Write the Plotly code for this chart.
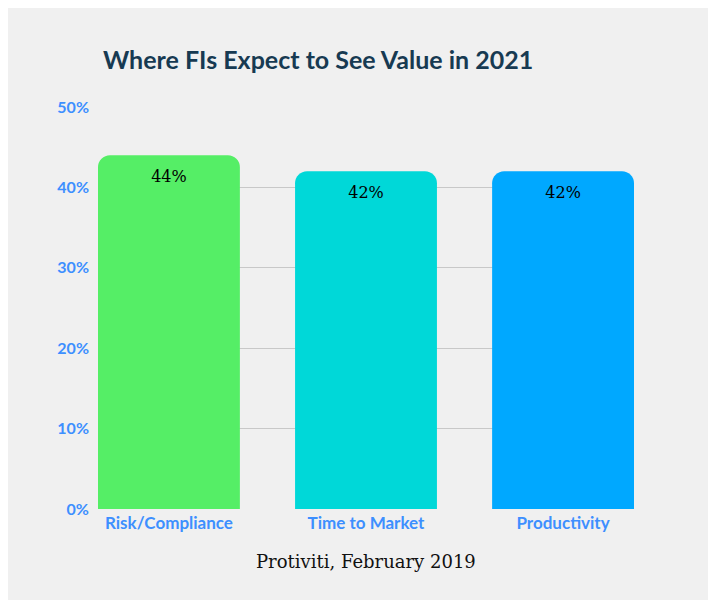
import plotly.graph_objects as go

categories = ["Risk/Compliance", "Time to Market", "Productivity"]
values = [44, 42, 42]
colors = ["#55ee66", "#00d8d8", "#00a8ff"]
tick_vals = [0, 10, 20, 30, 40, 50]
tick_text = ["0%", "10%", "20%", "30%", "40%", "50%"]

fig = go.Figure(go.Bar(
    x=categories, y=values, width=0.72,
    marker=dict(color=colors, line=dict(width=0)),
    text=[f"{v}%" for v in values], textposition="inside", insidetextanchor="end",
    textfont=dict(family="DejaVu Serif", size=16, color="black"),
    hoverinfo="skip",
))

fig.update_layout(
    width=716, height=600,
    margin=dict(l=90, r=90, t=99, b=99),
    paper_bgcolor="#f0f0f0", plot_bgcolor="#f0f0f0",
    barcornerradius=12,
    showlegend=False,
    title=dict(text="<b>Where FIs Expect to See Value in 2021</b>", x=95/716, xanchor="left",
               y=1 - 52/600, yanchor="middle",
               font=dict(family="Lato", size=25, color="#173a52")),
    annotations=[dict(text="Protiviti, February 2019", x=0.5, xref="paper", y=-65/402,
                      yref="paper", showarrow=False,
                      font=dict(family="DejaVu Serif", size=18, color="#111"))],
)
fig.update_xaxes(range=[-0.36, 2.36], showgrid=False, showline=False,
                 tickfont=dict(family="Lato", size=17, color="#3d8fff"), ticklabelstandoff=2)
fig.update_yaxes(range=[0, 50], tickvals=tick_vals, ticktext=tick_text,
                 showgrid=True, gridcolor="#c8c8c8", zeroline=False,
                 tickfont=dict(family="Lato", size=16, color="#3d8fff"), ticklabelstandoff=8)
fig.for_each_xaxis(lambda a: a.update(tickfont_weight="bold"))
fig.for_each_yaxis(lambda a: a.update(tickfont_weight="bold"))

fig.write_html("out.html")
